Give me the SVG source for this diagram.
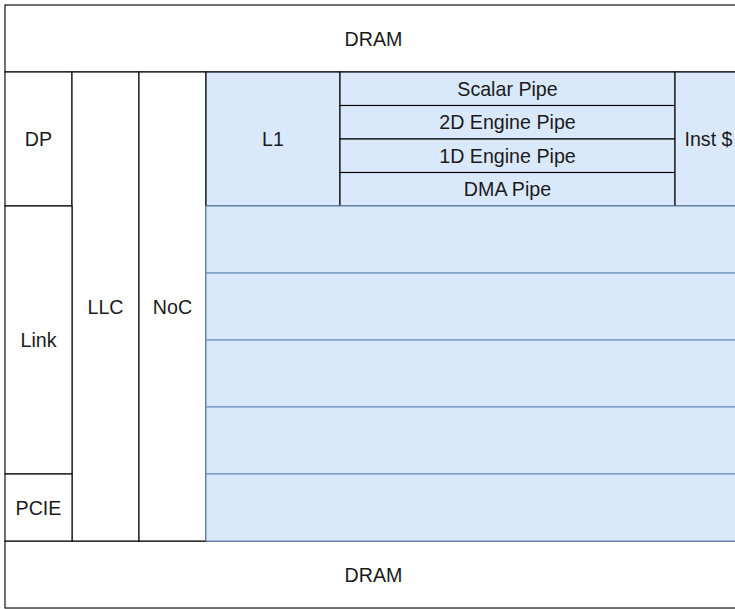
<svg xmlns="http://www.w3.org/2000/svg" width="735" height="609" viewBox="0 0 735 609">
<style>
.w{fill:#ffffff;stroke:#000000;stroke-width:1}
.b{fill:#dae8fc;stroke:#000000;stroke-width:1}
.r{fill:#dae8fc;stroke:#6c8ebf;stroke-width:1}
text{font-family:"Liberation Sans",Arial,Helvetica,sans-serif;font-size:17.6px;fill:#1a1a1a;text-anchor:middle;dominant-baseline:central}
</style>
<rect width="735" height="609" fill="#ffffff"/>
<g transform="translate(5,5) scale(1.1167)">
<g id="dram-top"><rect class="w" x="0" y="0" width="660" height="60"/><text x="330" y="30">DRAM</text></g>
<g id="dram-bottom"><rect class="w" x="0" y="480" width="660" height="60"/><text x="330" y="510">DRAM</text></g>
<g id="dp"><rect class="w" x="0" y="60" width="60" height="120"/><text x="30" y="120">DP</text></g>
<g id="llc"><rect class="w" x="60" y="60" width="60" height="420"/><text x="90" y="270">LLC</text></g>
<g id="noc"><rect class="w" x="120" y="60" width="60" height="420"/><text x="150" y="270">NoC</text></g>
<g id="l1"><rect class="b" x="180" y="60" width="120" height="120"/><text x="240" y="120">L1</text></g>
<g id="scalar-pipe"><rect class="b" x="300" y="60" width="300" height="30"/><text x="450" y="75">Scalar Pipe</text></g>
<g id="engine2d-pipe"><rect class="b" x="300" y="90" width="300" height="30"/><text x="450" y="105">2D Engine Pipe</text></g>
<g id="engine1d-pipe"><rect class="b" x="300" y="120" width="300" height="30"/><text x="450" y="135">1D Engine Pipe</text></g>
<g id="dma-pipe"><rect class="b" x="300" y="150" width="300" height="30"/><text x="450" y="165">DMA Pipe</text></g>
<g id="inst-cache"><rect class="b" x="600" y="60" width="60" height="120"/><text x="630" y="120">Inst $</text></g>
<g id="row1"><rect class="r" x="180" y="180" width="480" height="60"/></g>
<g id="row2"><rect class="r" x="180" y="240" width="480" height="60"/></g>
<g id="row3"><rect class="r" x="180" y="300" width="480" height="60"/></g>
<g id="row4"><rect class="r" x="180" y="360" width="480" height="60"/></g>
<g id="row5"><rect class="r" x="180" y="420" width="480" height="60"/></g>
<g id="link"><rect class="w" x="0" y="180" width="60" height="240"/><text x="30" y="300">Link</text></g>
<g id="pcie"><rect class="w" x="0" y="420" width="60" height="60"/><text x="30" y="450">PCIE</text></g>
<g id="connectors"/>
</g>
</svg>
